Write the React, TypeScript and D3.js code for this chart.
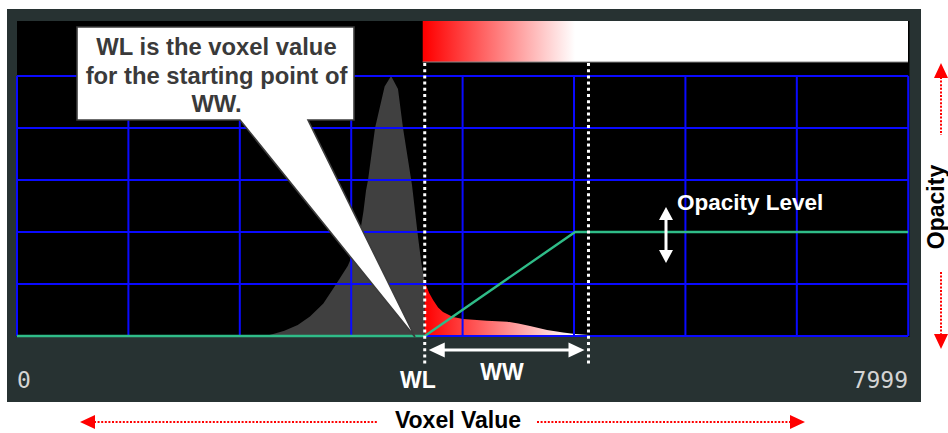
import React from "react";
import * as d3 from "d3";

// ---- data ----
const xDomain = [0, 7999];
const xTickLabels = ["0", "7999"];
const gridValues = [0, 1000, 2000, 3000, 4000, 5000, 6000, 7000, 8000];
const opacityGrid = [0, 0.2, 0.4, 0.6, 0.8, 1.0];
const WL = 3660;
const WW = 1350;
const wwMarker = 5130;
const opacityLevel = 0.4;
const opacityValues = [0, WL, WL + WW, 7999];
const opacityLevels = [0, 0, opacityLevel, opacityLevel];
const histValues = [2230, 2300, 2400, 2520, 2630, 2750, 2860, 2970, 3030, 3080, 3110, 3133, 3151, 3214, 3300, 3358, 3420, 3465, 3546, 3573, 3600, 3630, 3660, 3700, 3735, 3780, 3824, 3914, 4004, 4219, 4399, 4500, 4605, 4758, 4902, 5009, 5135, 5140];
const histCounts = [0, 0.8, 2, 4.2, 7.5, 12.5, 19.6, 27, 33, 40, 48, 56, 60, 80, 96, 100, 95, 80, 58, 48, 38, 28, 20.8, 16.5, 13.8, 11, 9.2, 7.3, 6.5, 5.9, 5.5, 4.8, 3.8, 2.3, 1.3, 0.8, 0.4, 0];
const calloutLines = ["WL is the voxel value", "for the starting point of", "WW."];

const FONT = "'Liberation Sans', Arial, Helvetica, sans-serif";

function arrowHead(tipX: number, tipY: number, dx: number, dy: number, len: number, half: number) {
  const bx = tipX - dx * len, by = tipY - dy * len;
  const px = -dy, py = dx;
  return `M${tipX},${tipY}L${bx + px * half},${by + py * half}L${bx - px * half},${by - py * half}Z`;
}

export default function App() {
  const W = 948, H = 433;
  const x = d3.scaleLinear().domain(xDomain).range([17, 908.1]);
  const yHist = d3.scaleLinear().domain([0, 100]).range([336, 76]);
  const yOp = d3.scaleLinear().domain([0, 1]).range([336, 76]);

  const histData = histValues.map((v, i) => [v, histCounts[i]] as [number, number]);
  const area = d3.area<[number, number]>().x(d => x(d[0])).y0(yHist(0)).y1(d => yHist(d[1]));
  const histPath = area(histData) || "";

  const opData = opacityValues.map((v, i) => [v, opacityLevels[i]] as [number, number]);
  const opLine = d3.line<[number, number]>().x(d => x(d[0])).y(d => yOp(d[1]));

  const xWL = x(WL), xEnd = x(WL + WW), xMark = x(wwMarker);
  const plotTop = 21, plotBottom = 337, plotLeft = 17, plotRight = 909.5;
  const gridTop = yOp(1), gridBottom = yOp(0);

  return (
    <svg width={W} height={H} style={{ position: "absolute", left: 0, top: 0, background: "#fff" }}>
      <defs>
        <linearGradient id="rg" gradientUnits="userSpaceOnUse" x1={xWL} x2={xEnd} y1={0} y2={0}>
          <stop offset="0" stopColor="#ff0000" />
          <stop offset="1" stopColor="#ffffff" />
        </linearGradient>
        <clipPath id="leftClip"><rect x={0} y={0} width={xWL} height={H} /></clipPath>
        <clipPath id="rightClip"><rect x={xWL} y={0} width={W} height={H} /></clipPath>
      </defs>
      <rect x={0} y={0} width={W} height={H} fill="#fff" />
      {/* outer panel */}
      <rect x={7} y={9} width={914} height={393} fill="#273232" />
      {/* plot black */}
      <rect x={plotLeft} y={plotTop} width={plotRight - plotLeft} height={plotBottom - plotTop} fill="#000" />
      {/* colour bar */}
      <rect x={xWL - 2} y={plotTop} width={plotRight - 1.5 - (xWL - 2)} height={41} fill="url(#rg)" />
      <line x1={xWL - 2} x2={plotRight - 1.5} y1={62} y2={62} stroke="#888" strokeWidth={1} />
      {/* histogram */}
      <path d={histPath} fill="#404040" clipPath="url(#leftClip)" />
      <path d={histPath} fill="url(#rg)" clipPath="url(#rightClip)" />
      {/* grid */}
      {opacityGrid.map((o, i) => (
        <line key={"h" + i} x1={plotLeft} x2={x(8000)} y1={yOp(o)} y2={yOp(o)} stroke="#0a0aff" strokeWidth={2} />
      ))}
      {gridValues.map((v, i) => (
        <line key={"v" + i} x1={x(v)} x2={x(v)} y1={gridTop} y2={gridBottom} stroke="#0a0aff" strokeWidth={2} />
      ))}
      {/* opacity curve */}
      <path d={opLine(opData) || ""} fill="none" stroke="#2fbc88" strokeWidth={2.4} />
      {/* callout */}
      <path d={`M77,27H354V120H308L415,337L240,120H77Z`} fill="#fff" stroke="#3c3c3c" strokeWidth={1.6} strokeLinejoin="miter" />
      {calloutLines.map((t, i) => (
        <text key={i} x={216.5} y={55 + i * 28.5} textAnchor="middle" fontFamily={FONT} fontWeight="bold" fontSize={23.8} fill="#3a3a3a">{t}</text>
      ))}
      {/* dotted WL / WW markers */}
      {[xWL, xMark].map((xx, i) => (
        <line key={"d" + i} x1={xx} x2={xx} y1={63} y2={366} stroke="#fff" strokeWidth={3} strokeDasharray="3,3.2" />
      ))}
      {/* WW double arrow */}
      <line x1={xWL + 12} x2={xMark - 14} y1={350} y2={350} stroke="#fff" strokeWidth={3} />
      <path d={arrowHead(xWL + 4, 350, -1, 0, 16, 7.5)} fill="#fff" />
      <path d={arrowHead(xMark - 4, 350, 1, 0, 16, 7.5)} fill="#fff" />
      <text x={418} y={388} textAnchor="middle" fontFamily={FONT} fontWeight="bold" fontSize={23} fill="#fff">WL</text>
      <text x={502} y={380} textAnchor="middle" fontFamily={FONT} fontWeight="bold" fontSize={23} fill="#fff">WW</text>
      {/* axis labels */}
      <text x={17} y={388} fontFamily="'DejaVu Sans Mono', monospace" fontSize={23} fill="#d4d4d4">{xTickLabels[0]}</text>
      <text x={908} y={388} textAnchor="end" fontFamily="'DejaVu Sans Mono', monospace" fontSize={23} fill="#d4d4d4">{xTickLabels[1]}</text>
      {/* opacity level */}
      <text x={677} y={210} fontFamily={FONT} fontWeight="bold" fontSize={22.5} fill="#fff">Opacity Level</text>
      <line x1={666} x2={666} y1={216} y2={254} stroke="#fff" strokeWidth={3} />
      <path d={arrowHead(666, 207, 0, -1, 13, 7)} fill="#fff" />
      <path d={arrowHead(666, 263, 0, 1, 13, 7)} fill="#fff" />
      {/* right Opacity label */}
      <text transform="translate(944,207) rotate(-90)" textAnchor="middle" fontFamily={FONT} fontWeight="bold" fontSize={23} fill="#000">Opacity</text>
      <line x1={941} x2={941} y1={77} y2={135} stroke="#ff0000" strokeWidth={2} strokeDasharray="2,1.6" />
      <path d={arrowHead(941, 63, 0, -1, 15, 7)} fill="#ff0000" />
      <line x1={941} x2={941} y1={272} y2={334} stroke="#ff0000" strokeWidth={2} strokeDasharray="2,1.6" />
      <path d={arrowHead(941, 349, 0, 1, 15, 7)} fill="#ff0000" />
      {/* bottom Voxel Value */}
      <text x={458} y={428} textAnchor="middle" fontFamily={FONT} fontWeight="bold" fontSize={23} fill="#000">Voxel Value</text>
      <line x1={94} x2={378} y1={422} y2={422} stroke="#ff0000" strokeWidth={2.2} strokeDasharray="2,1.6" />
      <path d={arrowHead(80, 422, -1, 0, 15, 7)} fill="#ff0000" />
      <line x1={537} x2={791} y1={422} y2={422} stroke="#ff0000" strokeWidth={2.2} strokeDasharray="2,1.6" />
      <path d={arrowHead(805, 422, 1, 0, 15, 7)} fill="#ff0000" />
    </svg>
  );
}
